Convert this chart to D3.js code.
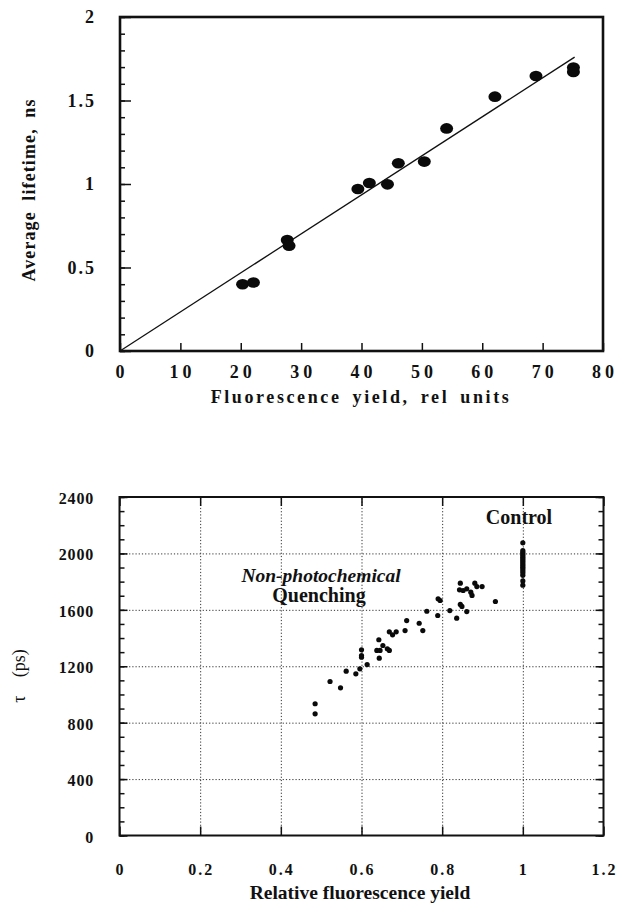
<!DOCTYPE html>
<html>
<head>
<meta charset="utf-8">
<script src="https://cdn.jsdelivr.net/npm/d3@7"></script>
<style>
  body { margin: 0; background: #fff; }
  svg { display: block; }
  text { font-family: "Liberation Serif", "DejaVu Serif", serif; fill: #111; }
</style>
</head>
<body>
<svg id="chart" width="631" height="904"></svg>
<script>
// top panel: lifetime vs yield
var topX = [20.3, 22.1, 27.7, 28.0, 39.4, 41.3, 44.3, 46.1, 50.4, 54.1, 62.1, 68.9, 75.1, 75.1];
var topY = [0.40, 0.41, 0.665, 0.63, 0.97, 1.006, 0.998, 1.124, 1.134, 1.333, 1.523, 1.647, 1.697, 1.671];
var fitX = [0, 75.3];
var fitY = [0, 1.76];
var topXTicks = [0, 10, 20, 30, 40, 50, 60, 70, 80];
var topYTicks = [0, 0.5, 1, 1.5, 2];
var topYLabels = ["0", "0.5", "1", "1.5", "2"];

// bottom panel: tau vs relative fluorescence yield
var npqX = [0.485, 0.485, 0.522, 0.548, 0.562, 0.586, 0.596, 0.600, 0.600, 0.600, 0.614, 0.638, 0.646, 0.643, 0.644,
            0.653, 0.664, 0.669, 0.669, 0.677, 0.686, 0.708, 0.712, 0.743, 0.752, 0.762, 0.789, 0.790, 0.795, 0.819,
            0.836, 0.845, 0.849, 0.861, 0.845, 0.843, 0.852, 0.861, 0.871, 0.874, 0.881, 0.886, 0.899, 0.932];
var npqY = [934, 863, 1092, 1047, 1165, 1146, 1182, 1317, 1276, 1264, 1212, 1312, 1312, 1388, 1257,
            1347, 1324, 1312, 1444, 1423, 1444, 1453, 1524, 1505, 1453, 1590, 1560, 1678, 1666, 1595,
            1541, 1638, 1624, 1588, 1789, 1742, 1737, 1749, 1725, 1702, 1789, 1765, 1765, 1659];
var controlX = [1, 1, 1, 1, 1, 1, 1, 1, 1, 1, 1, 1, 1, 1, 1, 1, 1, 1];
var controlY = [2075, 2020, 2008, 1996, 1985, 1972, 1962, 1950, 1938, 1925, 1914, 1902, 1890, 1876, 1862, 1845, 1805, 1775];
var botXTicks = [0, 0.2, 0.4, 0.6, 0.8, 1, 1.2];
var botXLabels = ["0", "0.2", "0.4", "0.6", "0.8", "1", "1.2"];
var botYTicks = [0, 400, 800, 1200, 1600, 2000, 2400];

var svg = d3.select("#chart");

// ---------- top panel ----------
var t = { left: 120, right: 603, top: 17, bottom: 351 };
var x1 = d3.scaleLinear().domain([0, 80]).range([t.left, t.right]);
var y1 = d3.scaleLinear().domain([0, 2]).range([t.bottom, t.top]);
var g1 = svg.append("g");

// inward ticks on the left: minor every 0.1, major every 0.5
g1.append("g")
    .attr("transform", "translate(" + t.left + ",0)")
    .call(d3.axisRight(y1).tickValues(d3.range(0, 2.01, 0.1)).tickSize(5).tickFormat(""))
    .call(function(a) { a.select(".domain").remove(); })
    .selectAll("line").attr("stroke", "#111").attr("stroke-width", 1.5);
g1.append("g")
    .attr("transform", "translate(" + t.left + ",0)")
    .call(d3.axisRight(y1).tickValues(topYTicks).tickSize(11).tickFormat(""))
    .call(function(a) { a.select(".domain").remove(); })
    .selectAll("line").attr("stroke", "#111").attr("stroke-width", 1.5);
// bottom ticks pointing up
g1.append("g")
    .attr("transform", "translate(0," + t.bottom + ")")
    .call(d3.axisTop(x1).tickValues(topXTicks).tickSize(8).tickFormat(""))
    .call(function(a) { a.select(".domain").remove(); })
    .selectAll("line").attr("stroke", "#111").attr("stroke-width", 1.5);

// tick labels
g1.selectAll(".ylab").data(topYTicks).enter().append("text")
    .attr("x", 96).attr("y", function(d) { return y1(d) + 6; })
    .attr("text-anchor", "end")
    .style("font-size", "18px").style("font-weight", "bold").style("letter-spacing", "2px")
    .text(function(d, i) { return topYLabels[i]; });
g1.selectAll(".xlab").data(topXTicks).enter().append("text")
    .attr("x", function(d) { return x1(d) + 2; }).attr("y", 378)
    .attr("text-anchor", "middle")
    .style("font-size", "18px").style("font-weight", "bold").style("letter-spacing", "4px")
    .text(function(d) { return d; });

// axis titles
g1.append("text")
    .attr("transform", "translate(35,190) rotate(-90)")
    .attr("text-anchor", "middle")
    .style("font-size", "18px").style("font-weight", "bold")
    .style("letter-spacing", "1.1px").style("word-spacing", "5px")
    .text("Average lifetime, ns");
g1.append("text")
    .attr("x", 361).attr("y", 403)
    .attr("text-anchor", "middle")
    .style("font-size", "18px").style("font-weight", "bold")
    .style("letter-spacing", "2.6px").style("word-spacing", "4px")
    .text("Fluorescence yield, rel units");

// fit line
var line = d3.line().x(function(d) { return x1(d[0]); }).y(function(d) { return y1(d[1]); });
g1.append("path")
    .datum(d3.zip(fitX, fitY))
    .attr("d", line)
    .attr("fill", "none").attr("stroke", "#111").attr("stroke-width", 1.3);

// points
g1.selectAll(".pt").data(d3.zip(topX, topY)).enter().append("ellipse")
    .attr("cx", function(d) { return x1(d[0]); })
    .attr("cy", function(d) { return y1(d[1]); })
    .attr("rx", 6.5).attr("ry", 5.3)
    .attr("fill", "#0a0a0a");

// frame
g1.append("rect")
    .attr("x", t.left).attr("y", t.top)
    .attr("width", t.right - t.left).attr("height", t.bottom - t.top)
    .attr("fill", "none").attr("stroke", "#111").attr("stroke-width", 2.6);

// ---------- bottom panel ----------
var b = { left: 119.5, right: 603.5, top: 497, bottom: 835.5 };
var x2 = d3.scaleLinear().domain([0, 1.2]).range([b.left, b.right]);
var y2 = d3.scaleLinear().domain([0, 2400]).range([b.bottom, b.top]);
var g2 = svg.append("g");

// dotted grid
g2.append("g")
    .attr("transform", "translate(0," + b.bottom + ")")
    .call(d3.axisTop(x2).tickValues(botXTicks.slice(1, -1)).tickSize(b.bottom - b.top).tickFormat(""))
    .call(function(a) { a.select(".domain").remove(); })
    .selectAll("line").attr("stroke", "#333").attr("stroke-width", 1).attr("stroke-dasharray", "1.2,2");
g2.append("g")
    .attr("transform", "translate(" + b.left + ",0)")
    .call(d3.axisRight(y2).tickValues(botYTicks.slice(1, -1)).tickSize(b.right - b.left).tickFormat(""))
    .call(function(a) { a.select(".domain").remove(); })
    .selectAll("line").attr("stroke", "#333").attr("stroke-width", 1).attr("stroke-dasharray", "1.2,2");

// ticks on all sides
function tickSet(axis, tr, vals, size) {
    g2.append("g")
        .attr("transform", tr)
        .call(axis.tickValues(vals).tickSize(size).tickFormat(""))
        .call(function(a) { a.select(".domain").remove(); })
        .selectAll("line").attr("stroke", "#111").attr("stroke-width", 1.5);
}
var minorY = d3.range(0, 2401, 100);
tickSet(d3.axisRight(y2), "translate(" + b.left + ",0)", minorY, 5);
tickSet(d3.axisRight(y2), "translate(" + b.left + ",0)", botYTicks, 8);
tickSet(d3.axisLeft(y2), "translate(" + b.right + ",0)", minorY, 5);
tickSet(d3.axisLeft(y2), "translate(" + b.right + ",0)", botYTicks, 8);
tickSet(d3.axisTop(x2), "translate(0," + b.bottom + ")", botXTicks, 9);
tickSet(d3.axisBottom(x2), "translate(0," + b.top + ")", botXTicks, 9);

// tick labels
g2.selectAll(".ylab").data(botYTicks).enter().append("text")
    .attr("x", 94).attr("y", function(d) { return y2(d) + 7; })
    .attr("text-anchor", "end")
    .style("font-size", "16px").style("font-weight", "bold").style("letter-spacing", "0.8px")
    .text(function(d) { return d; });
g2.selectAll(".xlab").data(botXTicks).enter().append("text")
    .attr("x", function(d) { return x2(d) + 1; }).attr("y", 875)
    .attr("text-anchor", "middle")
    .style("font-size", "16px").style("font-weight", "bold").style("letter-spacing", "2px")
    .text(function(d, i) { return botXLabels[i]; });

// axis titles
g2.append("text")
    .attr("x", 360).attr("y", 899)
    .attr("text-anchor", "middle")
    .style("font-size", "19.5px").style("font-weight", "bold")
    .text("Relative fluorescence yield");
g2.append("text")
    .attr("transform", "translate(25,676) rotate(-90)")
    .attr("text-anchor", "middle")
    .style("font-size", "18px").style("word-spacing", "14px")
    .text("τ (ps)");

// annotations
g2.append("text")
    .attr("x", 519).attr("y", 524)
    .attr("text-anchor", "middle")
    .style("font-size", "20px").style("font-weight", "bold")
    .text("Control");
g2.append("text")
    .attr("x", 321).attr("y", 582)
    .attr("text-anchor", "middle")
    .style("font-size", "19.5px").style("font-weight", "bold").style("font-style", "italic")
    .text("Non-photochemical");
g2.append("text")
    .attr("x", 319).attr("y", 602)
    .attr("text-anchor", "middle")
    .style("font-size", "20px").style("font-weight", "bold")
    .text("Quenching");

// points
g2.selectAll(".npq").data(d3.zip(npqX, npqY).concat(d3.zip(controlX, controlY))).enter().append("circle")
    .attr("cx", function(d) { return x2(d[0]); })
    .attr("cy", function(d) { return y2(d[1]); })
    .attr("r", 2.6)
    .attr("fill", "#0a0a0a");

// frame
g2.append("rect")
    .attr("x", b.left).attr("y", b.top)
    .attr("width", b.right - b.left).attr("height", b.bottom - b.top)
    .attr("fill", "none").attr("stroke", "#111").attr("stroke-width", 2);
</script>
</body>
</html>
